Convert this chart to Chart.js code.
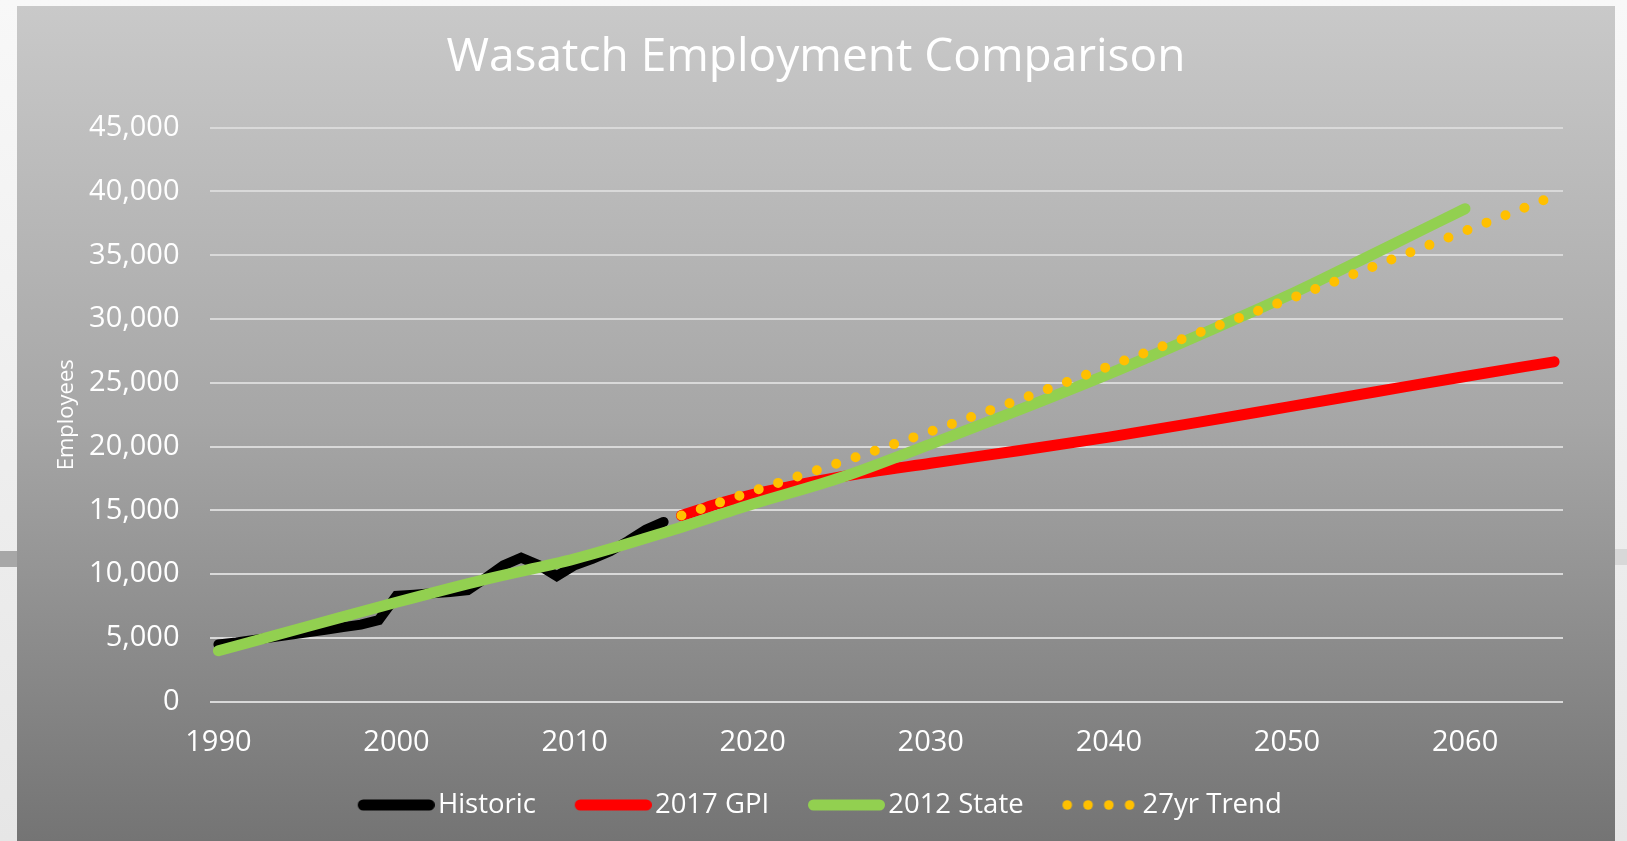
<!DOCTYPE html>
<html>
<head>
<meta charset="utf-8">
<title>Wasatch Employment Comparison</title>
<script src="https://cdn.jsdelivr.net/npm/chart.js@4.4.1/dist/chart.umd.min.js"></script>
<style>
  html, body { margin: 0; padding: 0; width: 1627px; height: 841px; overflow: hidden; }
  body { background: linear-gradient(#f8f8f8, #e6e6e6); position: relative; }
  .band { position: absolute; height: 16px; }
  #bandL { left: 0; width: 17px; top: 551px; background: #a7a7a7; }
  #bandR { left: 1615px; width: 12px; top: 549px; background: #d8d8d8; }
  #panel {
    position: absolute; left: 17px; top: 6px; width: 1598px; height: 835px;
    background: linear-gradient(#c9c9c9 0%, #a6a6a6 50%, #747474 100%);
  }
</style>
</head>
<body>
<div class="band" id="bandL"></div>
<div class="band" id="bandR"></div>
<div id="panel"><canvas id="employmentChart"></canvas></div>
<script>
// years on the category axis
var firstYear = 1990;
var lastYear = 2065;
var years = [];
for (var yr = firstYear; yr <= lastYear; yr++) years.push(yr);

// Historic, one value per year 1990-2015
var historicYears = [1990, 1991, 1992, 1993, 1994, 1995, 1996, 1997, 1998, 1999, 2000, 2001, 2002,
                     2003, 2004, 2005, 2006, 2007, 2008, 2009, 2010, 2011, 2012, 2013, 2014, 2015];
var historicValues = [4500, 4650, 4850, 5050, 5250, 5450, 5650, 5850, 6050, 6400, 8300, 8400, 8500,
                      8600, 8750, 9700, 10700, 11300, 10700, 9850, 10700, 11200, 11800, 12600, 13500, 14100];

// 2017 GPI projection
var gpiYears = [2016, 2017, 2018, 2020, 2022, 2025, 2030, 2035, 2040, 2045, 2050, 2055, 2060, 2065];
var gpiValues = [14600, 15050, 15500, 16250, 16850, 17650, 18700, 19700, 20750, 21900, 23100, 24300, 25500, 26650];

// 2012 State projection
var stateYears = [1990, 1995, 2000, 2005, 2010, 2015, 2020, 2025, 2030, 2035, 2040, 2045, 2050, 2055, 2060];
var stateValues = [4000, 5900, 7800, 9600, 11200, 13250, 15500, 17600, 20200, 22900, 25700, 28700, 31800, 35200, 38650];

// 27yr Trend
var trendYears = [2016, 2020, 2025, 2030, 2035, 2040, 2045, 2050, 2055, 2060, 2065];
var trendValues = [14600, 16500, 18800, 21200, 23700, 26300, 28900, 31500, 34200, 36900, 39650];

var yTicks = [0, 5000, 10000, 15000, 20000, 25000, 30000, 35000, 40000, 45000];

var fontFamily = "'Open Sans', sans-serif";

function onYears(yrs, vals) {
    var out = years.map(function () { return null; });
    for (var i = 0; i < yrs.length; i++) out[years.indexOf(yrs[i])] = vals[i];
    return out;
}

// legend samples: 95px wide canvas, the 77px sample sits at its right end
function lineSample(color) {
    var c = document.createElement('canvas');
    c.width = 95; c.height = 12;
    var g = c.getContext('2d');
    g.strokeStyle = color; g.lineWidth = 11; g.lineCap = 'round';
    g.beginPath(); g.moveTo(23.5, 6); g.lineTo(89.5, 6); g.stroke();
    return c;
}
function dotSample(color) {
    var c = document.createElement('canvas');
    c.width = 95; c.height = 12;
    var g = c.getContext('2d');
    g.fillStyle = color;
    for (var i = 0; i < 4; i++) {
        g.beginPath(); g.arc(22.8 + i * 20.8, 6, 4.8, 0, Math.PI * 2); g.fill();
    }
    return c;
}
var samples = [lineSample('#000000'), lineSample('#ff0000'), lineSample('#92d050'), dotSample('#ffc000')];

var ctx = document.getElementById('employmentChart').getContext('2d');
var employmentChart = new Chart(ctx, {
    type: 'line',
    data: {
        labels: years,
        datasets: [{
            label: 'Historic',
            data: onYears(historicYears, historicValues),
            borderColor: '#000000',
            borderWidth: 10,
            borderCapStyle: 'round',
            tension: 0,
            order: 4
        }, {
            label: '2017 GPI',
            data: onYears(gpiYears, gpiValues),
            borderColor: '#ff0000',
            borderWidth: 11,
            borderCapStyle: 'round',
            cubicInterpolationMode: 'monotone',
            order: 3
        }, {
            label: '2012 State',
            data: onYears(stateYears, stateValues),
            borderColor: '#92d050',
            borderWidth: 11,
            borderCapStyle: 'round',
            cubicInterpolationMode: 'monotone',
            order: 2
        }, {
            label: '27yr Trend',
            data: onYears(trendYears, trendValues),
            borderColor: '#ffc000',
            borderWidth: 10,
            borderCapStyle: 'round',
            borderDash: [0, 20.4],
            cubicInterpolationMode: 'monotone',
            order: 1
        }]
    },
    options: {
        responsive: true,
        maintainAspectRatio: false,
        animation: false,
        spanGaps: true,
        events: [],
        elements: { point: { radius: 0 } },
        layout: { padding: { left: 0, right: 0, top: 0, bottom: 12.25 } },
        plugins: {
            title: {
                display: true,
                text: 'Wasatch Employment Comparison',
                color: '#ffffff',
                font: { family: fontFamily, size: 46, weight: 'normal' },
                padding: { top: 24.7, bottom: 41.8 }
            },
            legend: {
                position: 'bottom',
                labels: {
                    color: '#ffffff',
                    font: { family: fontFamily, size: 27.5 },
                    usePointStyle: true,
                    pointStyleWidth: 73.9,
                    padding: 31.35,
                    generateLabels: function (chart) {
                        return chart.data.datasets.map(function (ds, i) {
                            return {
                                text: ds.label, datasetIndex: i, pointStyle: samples[i],
                                fontColor: '#ffffff', fillStyle: 'transparent',
                                strokeStyle: 'transparent', lineWidth: 0, hidden: false
                            };
                        });
                    }
                }
            },
            tooltip: { enabled: false }
        },
        scales: {
            x: {
                offset: true,
                grid: { display: false, drawTicks: false },
                border: { display: false },
                ticks: {
                    color: '#ffffff',
                    font: { family: fontFamily, size: 29 },
                    padding: 23.3,
                    autoSkip: false,
                    maxRotation: 0,
                    callback: function (v, i) {
                        return years[i] % 10 === 0 ? String(years[i]) : '';
                    }
                },
                afterFit: function (s) { s.height = 58.1; }
            },
            y: {
                min: 0,
                max: 45000,
                afterBuildTicks: function (s) {
                    s.ticks = yTicks.map(function (v) { return { value: v }; });
                },
                grid: { color: '#d9d9d9', lineWidth: 2, drawTicks: false },
                border: { display: false },
                ticks: {
                    color: '#ffffff',
                    font: { family: fontFamily, size: 29 },
                    padding: 30,
                    callback: function (v) { return v.toLocaleString('en-US'); }
                },
                title: {
                    display: true,
                    text: 'Employees',
                    color: '#ffffff',
                    font: { family: fontFamily, size: 22 },
                    padding: { top: 37, bottom: 0 }
                },
                afterFit: function (s) { s.width = 192.5; }
            },
            yRight: {
                position: 'right',
                display: true,
                grid: { display: false },
                border: { display: false },
                ticks: { display: false },
                afterFit: function (s) { s.width = 52; }
            }
        }
    }
});
</script>
</body>
</html>
